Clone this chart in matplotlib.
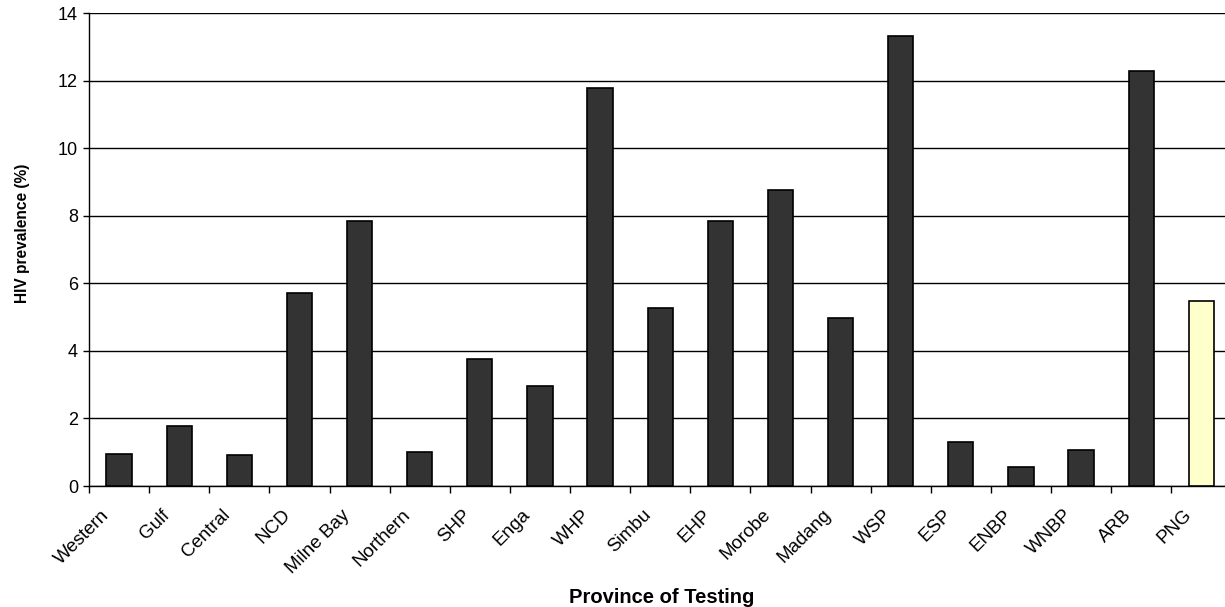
import matplotlib.pyplot as plt
import matplotlib.transforms as mtransforms
import numpy as np

plt.rcParams['font.family'] = ['Liberation Sans', 'DejaVu Sans']

provinces = ['Western', 'Gulf', 'Central', 'NCD', 'Milne Bay', 'Northern', 'SHP',
             'Enga', 'WHP', 'Simbu', 'EHP', 'Morobe', 'Madang', 'WSP', 'ESP',
             'ENBP', 'WNBP', 'ARB', 'PNG']
prevalence = [0.96, 1.77, 0.91, 5.70, 7.84, 1.00, 3.75, 2.95, 11.77, 5.26,
              7.84, 8.75, 4.97, 13.33, 1.30, 0.55, 1.07, 12.27, 5.47]
bar_colors = ['#333333'] * 18 + ['#ffffcc']

fig = plt.figure(figsize=(12.25, 6.07), dpi=100)
ax = fig.add_axes([0.0727, 0.1993, 0.9325, 0.7792])

x = np.arange(len(provinces))
ax.bar(x, prevalence, width=0.42, color=bar_colors, edgecolor='black',
       linewidth=1.2, zorder=3)

ax.set_xlim(-0.5, len(provinces) - 0.5)
ax.set_ylim(0, 14)
ax.set_yticks(range(0, 15, 2))
ax.yaxis.grid(True, color='black', linewidth=1)
ax.set_axisbelow(True)

# labels sit under the bars, tick marks between categories
ax.set_xticks(x)
ax.set_xticks(np.arange(len(provinces)) - 0.5, minor=True)
ax.tick_params(axis='x', which='major', length=0, pad=19)
ax.tick_params(axis='x', which='minor', length=5, width=1, direction='out')
ax.tick_params(axis='y', length=4, width=1, direction='out', labelsize=13, pad=4)
ax.set_xticklabels(provinces, rotation=45, ha='right', va='center',
                   rotation_mode='anchor', fontsize=13.5)
# nudge the slanted labels left (after tick_params, which resets transforms)
shift = mtransforms.ScaledTranslation(-12 / 100, 0, fig.dpi_scale_trans)
for lbl in ax.get_xticklabels():
    lbl.set_transform(lbl.get_transform() + shift)

for side in ['top', 'right']:
    ax.spines[side].set_visible(False)
ax.spines['left'].set_linewidth(1)
ax.spines['bottom'].set_linewidth(1)

ax.set_xlabel('Province of Testing', fontsize=14.5, fontweight='bold')
ax.xaxis.set_label_coords(0.5009, -0.2347)
ax.xaxis.label.set_va('center')
ax.set_ylabel('HIV prevalence (%)', fontsize=11.2, fontweight='bold')
ax.yaxis.set_label_coords(-0.0587, 0.535)
ax.yaxis.label.set_va('center')

fig.savefig('out.png', dpi=100)
